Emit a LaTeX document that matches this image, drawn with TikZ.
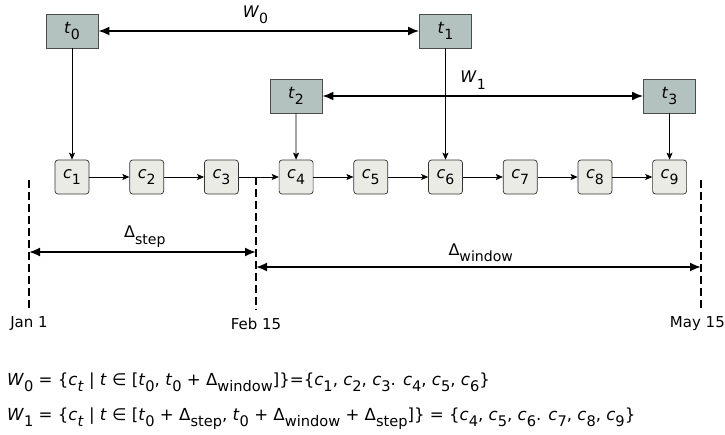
\documentclass[tikz,border=0pt]{standalone}
\usepackage{fontspec}
\setmainfont{DejaVu Sans}[ItalicFont={DejaVu Sans Oblique}]
\usetikzlibrary{arrows.meta}
\newcommand{\sbs}[1]{\raisebox{-0.42em}{\scalebox{0.88}{#1}}}
\newcommand{\vr}[2]{\textit{#1}\sbs{#2}}
\definecolor{tfill}{RGB}{179,194,191}
\definecolor{cfill}{RGB}{235,235,230}
\begin{document}
\begin{tikzpicture}[x=1pt,y=-1pt,
  tbox/.style={draw=black!70,fill=tfill,line width=0.8pt,minimum width=52pt,minimum height=34pt,inner sep=0pt,font=\fontsize{16}{18}\selectfont},
  cbox/.style={draw=black!80,fill=cfill,line width=0.7pt,rounded corners=3pt,minimum width=34pt,minimum height=34pt,inner sep=0pt,font=\fontsize{16}{18}\selectfont},
  arr/.style={line width=0.7pt,-{Stealth[length=7pt,width=6pt,inset=1.5pt]}},
  warr/.style={line width=1.8pt,{Latex[length=11pt,width=9pt]}-{Latex[length=11pt,width=9pt]}},
  dashln/.style={line width=1.3pt,dash pattern=on 8pt off 4pt},
  lbl/.style={font=\fontsize{16}{18}\selectfont,inner sep=0pt},
  dlbl/.style={font=\fontsize{15}{18}\selectfont,inner sep=0pt},
  frm/.style={font=\fontsize{16.6}{19}\selectfont,inner sep=0pt,anchor=base west}]
\useasboundingbox (0,0) rectangle (725,434);
\fill[white] (0,0) rectangle (725,434);
% t boxes
\node[tbox] (t0) at (72,31) {\vr{t}{0}};
\node[tbox] (t1) at (445.5,31) {\vr{t}{1}};
\node[tbox] (t2) at (296,96) {\vr{t}{2}};
\node[tbox] (t3) at (669.5,96) {\vr{t}{3}};
% c boxes
\foreach \i in {1,...,9}{
  \node[cbox] (c\i) at ({72+74.7*(\i-1)},177) {\vr{c}{\i}};
}
% dashed lines
\coordinate (jt) at (29,180); \coordinate (jb) at (29,310);
\coordinate (ft) at (256,177); \coordinate (fb) at (256,310);
\coordinate (mt) at (701,180); \coordinate (mb) at (701,310);
\draw[dashln] (jt) -- (jb);
\draw[dashln] (ft) -- (fb);
\draw[dashln] (mt) -- (mb);
% chain
\foreach \i [evaluate=\i as \j using int(\i+1)] in {1,...,8}{
  \draw[arr] (c\i) -- (c\j);
}
% t -> c
\draw[arr] (t0) -- (c1);
\draw[arr] (t1) -- (c6);
\draw[arr] (t2) -- (c4);
\draw[arr] (t3) -- (c9);
% windows
\draw[warr] (t0) -- node[lbl,pos=0.49,above=6pt]{\vr{W}{0}} (t1);
\draw[warr] (t2) -- node[lbl,pos=0.47,above=6pt]{\vr{W}{1}} (t3);
% deltas
\coordinate (ds1) at (29,252); \coordinate (ds2) at (256,252);
\coordinate (dw1) at (256,267); \coordinate (dw2) at (701,267);
\draw[warr] (ds1) -- node[lbl,pos=0.51,above=4pt]{Δ\sbs{step}} (ds2);
\draw[warr] (dw1) -- node[lbl,pos=0.505,above=4pt]{Δ\sbs{window}} (dw2);
% date labels
\node[dlbl] (jan) at (29,324) {Jan 1};
\node[dlbl] (feb) at (256,324) {Feb 15};
\node[dlbl,anchor=east] (may) at (725,324) {May 15};
% formulas
\node[frm] (f0) at (7,385) {\vr{W}{0} = \{\vr{c}{\textit{t}} | \textit{t} ∈ [\vr{t}{0}, \vr{t}{0} + Δ\sbs{window}]\}=\{\vr{c}{1}, \vr{c}{2}, \vr{c}{3}. \vr{c}{4}, \vr{c}{5}, \vr{c}{6}\}};
\node[frm] (f1) at (7,420) {\vr{W}{1} = \{\vr{c}{\textit{t}} | \textit{t} ∈ [\vr{t}{0} + Δ\sbs{step}, \vr{t}{0} + Δ\sbs{window} + Δ\sbs{step}]\} = \{\vr{c}{4}, \vr{c}{5}, \vr{c}{6}. \vr{c}{7}, \vr{c}{8}, \vr{c}{9}\}};
\end{tikzpicture}
\end{document}
